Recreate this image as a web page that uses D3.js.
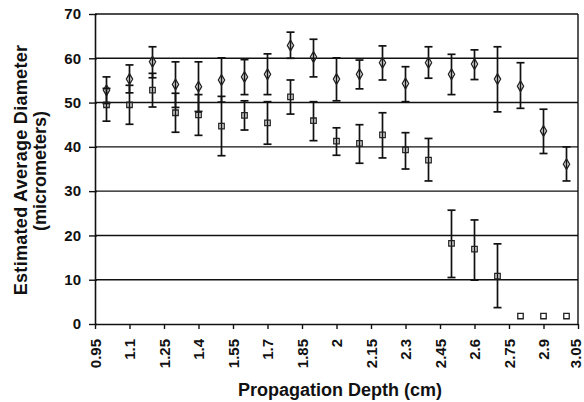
<!DOCTYPE html>
<html>
<head>
<meta charset="utf-8">
<script src="https://cdn.jsdelivr.net/npm/d3@7"></script>
<style>
  body { margin: 0; background: #fff; }
  svg text { font-family: "Liberation Sans", Arial, sans-serif; font-weight: bold; fill: #111; }
</style>
</head>
<body>
<svg id="chart" width="584" height="402"></svg>
<script>
// depths where measurements were taken (cm)
const depths = [1.0, 1.1, 1.2, 1.3, 1.4, 1.5, 1.6, 1.7, 1.8, 1.9, 2.0,
                2.1, 2.2, 2.3, 2.4, 2.5, 2.6, 2.7, 2.8, 2.9, 3.0];

// diamond series
const diamondMean = [52.8, 55.3, 59.2, 54.1, 53.6, 55.1, 55.8, 56.4, 62.9, 60.3, 55.3,
                     56.4, 59.0, 54.3, 59.0, 56.4, 58.7, 55.3, 53.7, 43.6, 36.1];
const diamondHigh = [55.8, 58.5, 62.6, 59.2, 59.2, 60.1, 59.7, 61.0, 65.9, 64.3, 60.1,
                     59.6, 62.8, 58.1, 62.6, 60.9, 61.9, 62.6, 59.0, 48.5, 40.0];
const diamondLow  = [49.8, 52.2, 55.6, 48.9, 48.0, 50.1, 51.8, 51.8, 60.0, 55.8, 50.4,
                     53.1, 55.1, 50.2, 55.5, 51.8, 55.2, 47.9, 48.7, 38.5, 32.3];

// square series
const squareMean = [49.5, 49.5, 52.8, 47.7, 47.2, 44.7, 47.1, 45.4, 51.3, 45.9, 41.3,
                    40.8, 42.7, 39.3, 37.0, 18.2, 16.9, 10.8, 1.8, 1.8, 1.8];
const squareHigh = [53.2, 53.9, 56.6, 52.1, 51.8, 51.4, 50.4, 50.2, 55.1, 50.2, 44.3,
                    45.0, 47.7, 43.2, 41.9, 25.7, 23.5, 18.1, 1.8, 1.8, 1.8];
const squareLow  = [45.8, 45.1, 49.0, 43.3, 42.6, 38.0, 43.8, 40.6, 47.4, 41.4, 38.1,
                    36.3, 37.5, 35.0, 32.3, 10.5, 9.9, 3.7, 1.8, 1.8, 1.8];

const xTickLabels = ["0.95", "1.1", "1.25", "1.4", "1.55", "1.7", "1.85", "2",
                     "2.15", "2.3", "2.45", "2.6", "2.75", "2.9", "3.05"];
const yTicks = [0, 10, 20, 30, 40, 50, 60, 70];

const svg = d3.select("#chart");
const plotLeft = 95, plotRight = 578, plotTop = 14, plotBottom = 324;

const x = d3.scaleLinear().domain([0.95, 3.05]).range([plotLeft, plotRight]);
const y = d3.scaleLinear().domain([0, 70]).range([plotBottom, plotTop]);

// horizontal grid lines
svg.append("g")
    .selectAll("line")
    .data(yTicks.filter(d => d > 0))
    .join("line")
    .attr("x1", plotLeft).attr("x2", plotRight)
    .attr("y1", d => y(d)).attr("y2", d => y(d))
    .attr("stroke", "#111")
    .attr("stroke-width", 1.4);

// right border
svg.append("line")
    .attr("x1", plotRight).attr("x2", plotRight)
    .attr("y1", plotTop).attr("y2", plotBottom)
    .attr("stroke", "#111").attr("stroke-width", 1.4);

// y axis (ticks cross the axis line)
const yAxis = svg.append("g")
    .attr("transform", `translate(${plotLeft},0)`)
    .call(d3.axisLeft(y).tickValues(yTicks).tickSize(6).tickSizeOuter(0).tickPadding(8));
yAxis.select(".domain").attr("stroke", "#111").attr("stroke-width", 1.6);
yAxis.selectAll(".tick line").attr("x2", 2).attr("x1", -6).attr("stroke", "#111").attr("stroke-width", 1.4);
yAxis.selectAll("text").style("font-size", "15px").style("font-family", "Liberation Sans, Arial, sans-serif");

// x axis
const xAxis = svg.append("g")
    .attr("transform", `translate(0,${plotBottom})`)
    .call(d3.axisBottom(x)
        .tickValues(xTickLabels.map(Number))
        .tickFormat((d, i) => xTickLabels[i])
        .tickSize(5).tickSizeOuter(0));
xAxis.select(".domain").attr("stroke", "#111").attr("stroke-width", 1.6);
xAxis.selectAll(".tick line").attr("stroke", "#111").attr("stroke-width", 1.4);
xAxis.selectAll("text")
    .style("font-size", "15px")
    .style("font-family", "Liberation Sans, Arial, sans-serif")
    .attr("text-anchor", "end")
    .attr("transform", "rotate(-90)")
    .attr("x", -15)
    .attr("y", 0)
    .attr("dy", (d, i) => i === xTickLabels.length - 1 ? "0.15em" : "0.35em");

// axis titles
svg.append("text")
    .attr("x", 340)
    .attr("y", 396)
    .attr("text-anchor", "middle")
    .style("font-size", "18px")
    .text("Propagation Depth (cm)");

svg.append("text")
    .attr("transform", "translate(27,170) rotate(-90)")
    .attr("text-anchor", "middle")
    .style("font-size", "18px")
    .style("letter-spacing", "0.3px")
    .text("Estimated Average Diameter");

svg.append("text")
    .attr("transform", "translate(46,171) rotate(-90)")
    .attr("text-anchor", "middle")
    .style("font-size", "18px")
    .text("(micrometers)");

// error bars + markers
function drawSeries(mean, low, high, symbol) {
    const g = svg.append("g");
    const pts = depths.map((d, i) => ({ d, m: mean[i], lo: low[i], hi: high[i] }))
        .filter(p => p.hi > p.lo);

    g.selectAll("line.bar")
        .data(pts)
        .join("line")
        .attr("class", "bar")
        .attr("x1", p => x(p.d)).attr("x2", p => x(p.d))
        .attr("y1", p => y(p.lo)).attr("y2", p => y(p.hi))
        .attr("stroke", "#111").attr("stroke-width", 1.7);

    ["lo", "hi"].forEach(k => {
        g.selectAll("line.cap-" + k)
            .data(pts)
            .join("line")
            .attr("class", "cap-" + k)
            .attr("x1", p => x(p.d) - 4).attr("x2", p => x(p.d) + 4)
            .attr("y1", p => y(p[k])).attr("y2", p => y(p[k]))
            .attr("stroke", "#111").attr("stroke-width", 1.7);
    });

    g.selectAll("path.mark")
        .data(depths.map((d, i) => ({ d, m: mean[i] })))
        .join("path")
        .attr("class", "mark")
        .attr("d", d3.symbol().type(symbol).size(symbol === d3.symbolDiamond ? 34 : 30))
        .attr("transform", p => `translate(${x(p.d)},${y(p.m)})`)
        .attr("fill", "none")
        .attr("stroke", "#222")
        .attr("stroke-width", 1.3);
}

drawSeries(diamondMean, diamondLow, diamondHigh, d3.symbolDiamond);
drawSeries(squareMean, squareLow, squareHigh, d3.symbolSquare);
</script>
</body>
</html>
